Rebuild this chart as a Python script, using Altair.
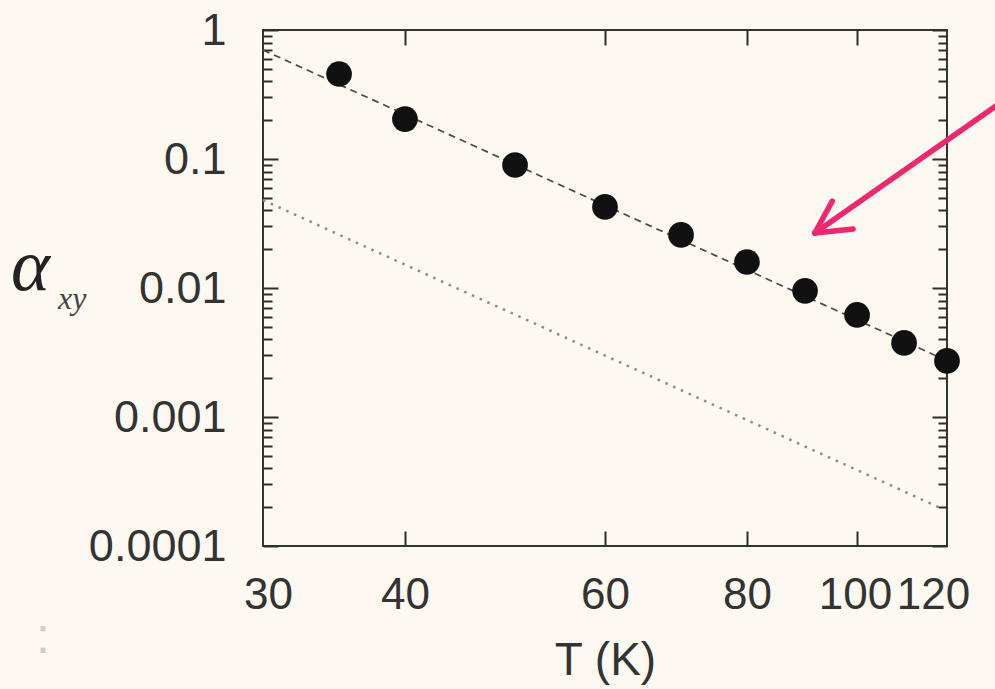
import altair as alt
import pandas as pd

# Measured Hall-angle-like coefficient vs temperature
T = [35, 40, 50, 60, 70, 80, 90, 100, 110, 120]
alpha = [0.456, 0.204, 0.0898, 0.0425, 0.0258, 0.0159, 0.0095, 0.00618, 0.00375, 0.00272]

# Power-law guide lines (straight on log-log axes), given by their end points
fit_T = [30, 120]
fit_alpha = [0.70, 0.00273]
ref_T = [30, 118]
ref_alpha = [0.048, 0.0002]

# Annotation arrow (shaft + two barbs), in data units
arrow_T = [132.9, 91.8, 91.8]
arrow_alpha = [0.262, 0.0267, 0.0267]
arrow_T2 = [91.8, 99.2, 95.1]
arrow_alpha2 = [0.0267, 0.0287, 0.0472]

# Axis tick values
x_labels = [30, 40, 60, 80, 100, 120]
x_ticks = [40, 60, 80, 100]
y_labels = [0.0001, 0.001, 0.01, 0.1, 1]
y_minor = [m * 10.0 ** e for e in range(-4, 0) for m in range(2, 10)]

W, H = 684, 516
FONT = "Liberation Sans"
INK = "#333333"
BG = "#fdf8f0"

points = pd.DataFrame({"T": T, "alpha": alpha})
fit = pd.DataFrame({"T": fit_T, "alpha": fit_alpha})
ref = pd.DataFrame({"T": ref_T, "alpha": ref_alpha})
arrow = pd.DataFrame({"T": arrow_T, "alpha": arrow_alpha, "T2": arrow_T2, "alpha2": arrow_alpha2})

xs = alt.Scale(type="log", domain=[30, 120], nice=False)
ys = alt.Scale(type="log", domain=[0.0001, 1], nice=False)

no_axis = None


def tick_axis(orient, offset, values, size):
    return alt.Axis(orient=orient, offset=offset, values=values, tickSize=size,
                    tickWidth=2, tickColor="#2e2e2e", labels=False, domain=False,
                    grid=False, title=None)


# main x / y axes: labels outside, no ticks (ticks are drawn inside below)
x_main = alt.Axis(values=x_labels, format="d", ticks=False, domain=False, grid=False,
                  labelFont=FONT, labelFontSize=44, labelColor=INK, labelPadding=27,
                  labelOffset={"condition": [{"test": "datum.value == 120", "value": -14},
                                             {"test": "datum.value == 100", "value": -2},
                                             {"test": "datum.value == 30", "value": 5}],
                               "value": 0},
                  labelFlush=False, labelOverlap=False,
                  title="T (K)", titleFont=FONT, titleFontSize=46, titleFontWeight="normal",
                  titleColor=INK, titlePadding=21)
y_main = alt.Axis(values=y_labels, format="~g", ticks=False, domain=False, grid=False,
                  labelFont=FONT, labelFontSize=45, labelColor=INK, labelPadding=37,
                  labelFlush=False, labelOverlap=False, title=None)

dots = alt.Chart(points).mark_circle(size=660, color="#111111", opacity=1).encode(
    x=alt.X("T:Q", scale=xs, axis=x_main),
    y=alt.Y("alpha:Q", scale=ys, axis=y_main),
)

fit_line = alt.Chart(fit).mark_line(color="#4a4a4a", strokeWidth=1.7, strokeDash=[7, 5]).encode(
    x=alt.X("T:Q", scale=xs, axis=tick_axis("top", -H, x_ticks, 15)),
    y=alt.Y("alpha:Q", scale=ys, axis=tick_axis("right", -W, y_labels, 15)),
)

ref_line = alt.Chart(ref).mark_line(color="#8c8c8c", strokeWidth=2.5, strokeDash=[2.5, 6]).encode(
    x=alt.X("T:Q", scale=xs, axis=tick_axis("bottom", -H, x_ticks, 15)),
    y=alt.Y("alpha:Q", scale=ys, axis=tick_axis("left", -W, y_labels, 15)),
)

minor_l = alt.Chart(points).mark_point(opacity=0).encode(
    x=alt.X("T:Q", scale=xs, axis=no_axis),
    y=alt.Y("alpha:Q", scale=ys, axis=tick_axis("right", -W, y_minor, 9)),
)
minor_r = alt.Chart(points).mark_point(opacity=0).encode(
    x=alt.X("T:Q", scale=xs, axis=no_axis),
    y=alt.Y("alpha:Q", scale=ys, axis=tick_axis("left", -W, y_minor, 9)),
)

arrow_marks = alt.Chart(arrow).mark_rule(color="#f0266f", strokeWidth=5.5, strokeCap="round",
                                         clip=False).encode(
    x=alt.X("T:Q", scale=xs, axis=no_axis),
    y=alt.Y("alpha:Q", scale=ys, axis=no_axis),
    x2="T2:Q",
    y2="alpha2:Q",
)

# y-axis symbol: alpha with subscript xy
sym = pd.DataFrame({"t": ["α"]})
alpha_sym = alt.Chart(sym).mark_text(font="Liberation Serif", fontStyle="italic", fontSize=74,
                                     color="#222222", align="left", baseline="alphabetic").encode(
    text="t:N", x=alt.value(-252), y=alt.value(260))
sub = pd.DataFrame({"t": ["xy"]})
alpha_sub = alt.Chart(sub).mark_text(font="Liberation Serif", fontStyle="italic", fontSize=32,
                                     color="#444444", align="left", baseline="alphabetic").encode(
    text="t:N", x=alt.value(-205), y=alt.value(279))

# faint colon mark near the lower-left corner
colon = pd.DataFrame({"t": [":"]})
colon_mark = alt.Chart(colon).mark_text(font=FONT, fontSize=52, color="#d2cdc4",
                                        align="center", baseline="alphabetic").encode(
    text="t:N", x=alt.value(-220), y=alt.value(623))

chart = alt.layer(
    minor_l, minor_r, ref_line, fit_line, dots, arrow_marks, alpha_sym, alpha_sub, colon_mark
).resolve_axis(x="independent", y="independent").properties(
    width=W, height=H,
    autosize=alt.AutoSizeParams(type="none"),
    padding={"left": 263, "top": 30, "right": 48, "bottom": 143},
    background=BG,
).configure_view(stroke=INK, strokeWidth=2)

chart.save("out.html", embed_options={"renderer": "svg", "actions": False})
